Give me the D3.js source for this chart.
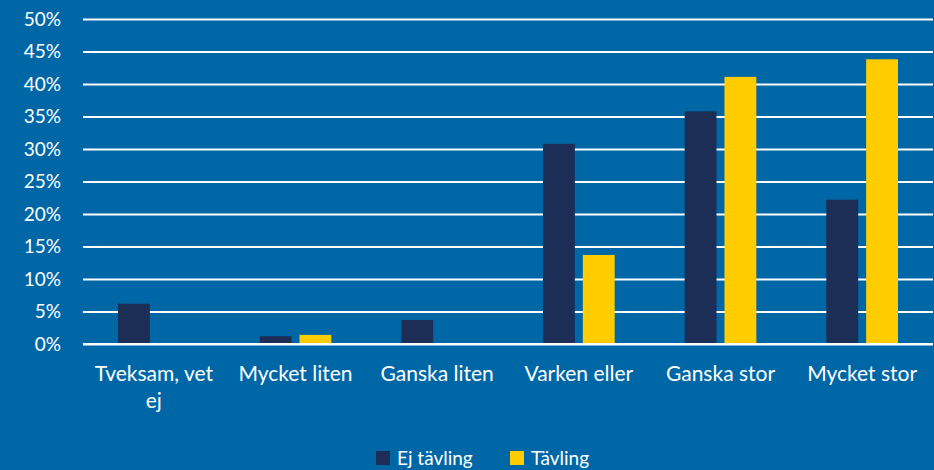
<!DOCTYPE html>
<html>
<head>
<meta charset="utf-8">
<script src="https://cdn.jsdelivr.net/npm/d3@7"></script>
<style>
  body { margin: 0; background: #0067a7; }
  svg { display: block; font-family: Lato, "Open Sans", sans-serif; }
</style>
</head>
<body>
<svg id="chart" width="934" height="470"></svg>
<script>
var categories = ["Tveksam, vet ej", "Mycket liten", "Ganska liten", "Varken eller", "Ganska stor", "Mycket stor"]
var seriesNames = ["Ej tävling", "Tävling"]
var ejTavling = [6.2, 1.2, 3.7, 30.8, 35.8, 22.2]
var tavling = [0, 1.4, 0, 13.7, 41.1, 43.8]
var yTicks = [0, 5, 10, 15, 20, 25, 30, 35, 40, 45, 50]
var colors = ["#1c2d56", "#ffcc00"]

var margin = { top: 19, left: 83, right: 1, bottom: 126 }
var width = 934 - margin.left - margin.right
var height = 470 - margin.top - margin.bottom

var svg = d3.select("#chart")
svg.append("rect").attr("width", 934).attr("height", 470).attr("fill", "#0067a7")

var g = svg.append("g")
  .attr("transform", "translate(" + margin.left + "," + margin.top + ")")

var xScale = d3.scaleBand()
  .domain(categories)
  .range([0, width])
  .paddingInner(0)
  .paddingOuter(0)

var xInner = d3.scaleBand()
  .domain(seriesNames)
  .range([35, xScale.bandwidth() - 35])
  .paddingInner(0.2)

var yScale = d3.scaleLinear()
  .domain([0, 50])
  .range([height, 0])

// gridlines + labels
var yAxis = d3.axisLeft(yScale)
  .tickValues(yTicks)
  .tickSize(-width)
  .tickPadding(22)
  .tickFormat(function(d) { return d + "%" })

g.append("g")
  .attr("class", "y-axis")
  .call(yAxis)
  .call(function(ax) {
    ax.select(".domain").remove()
    ax.selectAll("line").attr("stroke", "#fff").attr("stroke-width", 2)
    ax.selectAll("text").attr("fill", "#fff").attr("font-size", 19)
      .attr("font-family", "Lato, 'Open Sans', sans-serif")
  })

var rows = categories.map(function(c, i) {
  return { cat: c, values: [ejTavling[i], tavling[i]] }
})

var groups = g.selectAll(".grp")
  .data(rows)
  .enter()
  .append("g")
  .attr("class", "grp")
  .attr("transform", function(d) { return "translate(" + xScale(d.cat) + ",0)" })

groups.selectAll("rect")
  .data(function(d) {
    return d.values.map(function(v, j) { return { s: seriesNames[j], v: v, j: j } })
  })
  .enter()
  .append("rect")
  .attr("x", function(d) { return xInner(d.s) })
  .attr("width", xInner.bandwidth())
  .attr("y", function(d) { return yScale(d.v) })
  .attr("height", function(d) { return height - yScale(d.v) })
  .attr("fill", function(d) { return colors[d.j] })

// baseline redrawn over bars
g.append("line")
  .attr("x1", 0).attr("x2", width)
  .attr("y1", yScale(0)).attr("y2", yScale(0))
  .attr("stroke", "#fff").attr("stroke-width", 2)

// x labels
var xAxis = d3.axisBottom(xScale).tickSize(0).tickPadding(22)
g.append("g")
  .attr("transform", "translate(0," + height + ")")
  .call(xAxis)
  .call(function(ax) {
    ax.select(".domain").remove()
    ax.selectAll("text").attr("fill", "#fff").attr("font-size", 21)
      .attr("font-family", "Lato, 'Open Sans', sans-serif")
      .call(wrap, xScale.bandwidth() - 12)
  })

function wrap(texts, w) {
  texts.each(function() {
    var text = d3.select(this)
    var words = text.text().split(/\s+/)
    var y = text.attr("y"), dy = parseFloat(text.attr("dy"))
    text.text(null)
    var line = []
    var tspan = text.append("tspan").attr("x", 0).attr("y", y).attr("dy", dy + "em")
    var lineNo = 0
    words.forEach(function(word) {
      line.push(word)
      tspan.text(line.join(" "))
      if (tspan.node().getComputedTextLength() > w && line.length > 1) {
        line.pop()
        tspan.text(line.join(" "))
        line = [word]
        lineNo++
        tspan = text.append("tspan").attr("x", 0).attr("y", y)
          .attr("dy", (lineNo * 1.3 + dy) + "em").text(word)
      }
    })
  })
}

// legend
var legend = svg.append("g").attr("transform", "translate(376,451)")
var legendX = [0, 134]
seriesNames.forEach(function(name, i) {
  var item = legend.append("g").attr("transform", "translate(" + legendX[i] + ",0)")
  item.append("rect").attr("width", 14).attr("height", 14).attr("fill", colors[i])
  item.append("text").attr("x", 21).attr("y", 14).attr("fill", "#fff")
    .attr("font-size", 19).text(name)
})
</script>
</body>
</html>
